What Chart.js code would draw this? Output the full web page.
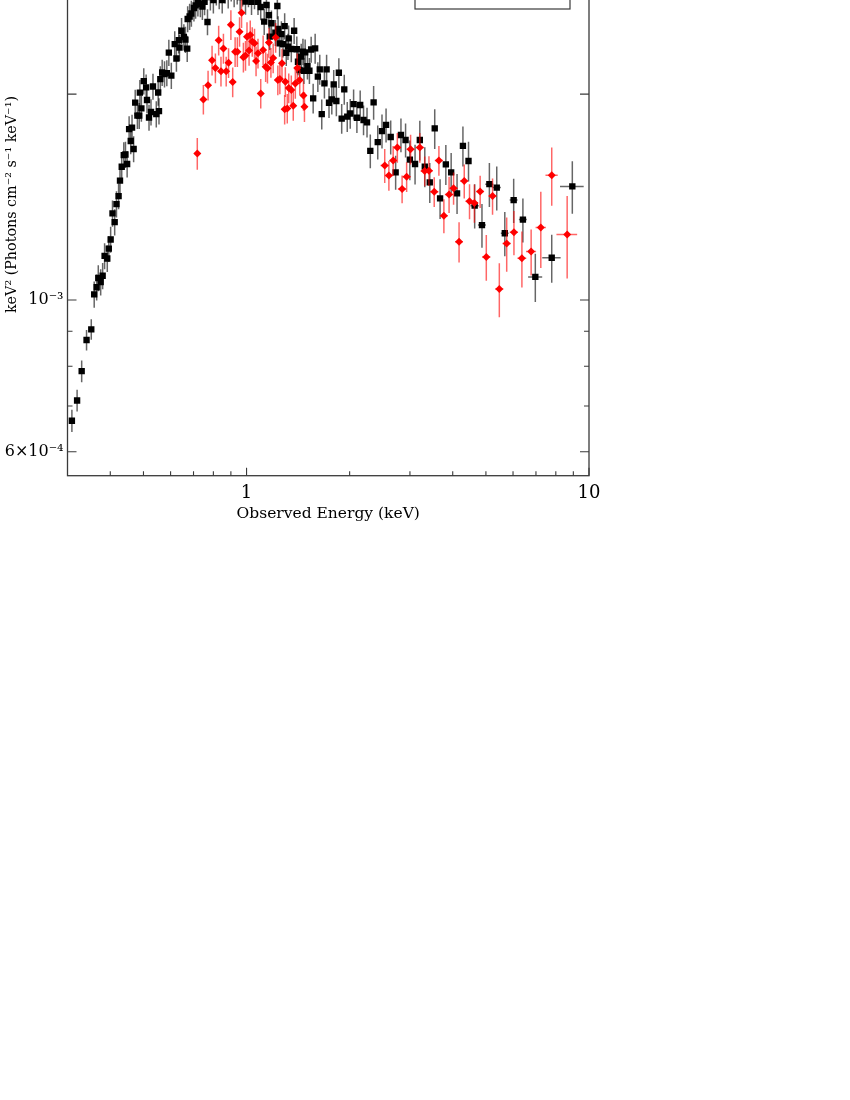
<!DOCTYPE html>
<html>
<head>
<meta charset="utf-8">
<script src="https://cdn.jsdelivr.net/npm/chart.js@4.4.1/dist/chart.umd.min.js"></script>
<style>
html,body{margin:0;padding:0;background:#fff;overflow:hidden;width:850px;height:1100px;}
#wrap{position:absolute;left:0;top:-100px;width:850px;height:640px;}
</style>
</head>
<body>
<div id="wrap"><canvas id="c" width="850" height="640"></canvas></div>
<script>
// ---------------- data (energies in keV, flux in photons cm^-2 s^-1 keV, i.e. keV^2 N(E)) ----------------
const seriesLabels = ['Spectrum A', 'Spectrum B'];

const blackEnergy = [
0.309,0.320,0.330,0.341,0.352,0.359,0.365,0.369,0.375,0.380,
0.385,0.392,0.396,0.401,0.406,0.412,0.417,0.423,0.427,0.432,
0.438,0.443,0.448,0.454,0.459,0.463,0.468,0.473,0.480,0.486,
0.488,0.493,0.501,0.509,0.512,0.519,0.526,0.533,0.545,0.552,
0.555,0.560,0.567,0.576,0.585,0.593,0.603,0.617,0.624,0.634,
0.637,0.646,0.656,0.663,0.671,0.673,0.682,0.690,0.702,0.710,
0.721,0.733,0.743,0.754,0.769,0.784,0.800,0.816,0.832,0.849,
0.866,0.884,0.902,0.920,0.939,0.958,0.974,0.993,1.013,1.034,
1.055,1.080,1.100,1.126,1.143,1.162,1.169,1.182,1.214,1.230,
1.236,1.249,1.264,1.278,1.292,1.306,1.321,1.327,1.351,1.377,
1.402,1.413,1.428,1.444,1.461,1.471,1.483,1.506,1.526,1.544,
1.565,1.586,1.615,1.636,1.658,1.688,1.713,1.741,1.774,1.797,
1.829,1.860,1.896,1.929,1.968,2.008,2.054,2.100,2.147,2.196,
2.248,2.298,2.350,2.416,2.486,2.555,2.636,2.725,2.824,2.913,
2.998,3.105,3.206,3.315,3.428,3.544,3.674,3.819,3.958,4.118,
4.284,4.448,4.636,4.869,5.118,5.378,5.677,6.026,6.412,6.970,
7.783,8.939];

const blackFlux = [
0.666e-3,0.713e-3,0.787e-3,0.874e-3,0.906e-3,1.019e-3,1.044e-3,1.077e-3,1.062e-3,1.085e-3,
1.160e-3,1.150e-3,1.189e-3,1.226e-3,1.339e-3,1.300e-3,1.381e-3,1.419e-3,1.495e-3,1.566e-3,
1.629e-3,1.632e-3,1.581e-3,1.778e-3,1.708e-3,1.787e-3,1.663e-3,1.944e-3,1.860e-3,1.860e-3,
2.010e-3,1.906e-3,2.090e-3,2.046e-3,1.961e-3,1.849e-3,1.883e-3,2.052e-3,1.870e-3,2.011e-3,
1.889e-3,2.104e-3,2.151e-3,2.140e-3,2.147e-3,2.300e-3,2.129e-3,2.367e-3,2.255e-3,2.399e-3,
2.339e-3,2.476e-3,2.424e-3,2.403e-3,2.331e-3,2.576e-3,2.597e-3,2.624e-3,2.673e-3,2.696e-3,
2.718e-3,2.709e-3,2.686e-3,2.728e-3,2.550e-3,2.773e-3,2.745e-3,2.820e-3,2.783e-3,2.745e-3,
2.839e-3,2.792e-3,2.858e-3,2.802e-3,2.830e-3,2.773e-3,2.811e-3,2.732e-3,2.802e-3,2.730e-3,
2.783e-3,2.730e-3,2.682e-3,2.553e-3,2.700e-3,2.610e-3,2.427e-3,2.539e-3,2.459e-3,2.691e-3,
2.490e-3,2.373e-3,2.448e-3,2.367e-3,2.515e-3,2.299e-3,2.347e-3,2.413e-3,2.328e-3,2.476e-3,
2.326e-3,2.230e-3,2.169e-3,2.269e-3,2.307e-3,2.164e-3,2.302e-3,2.198e-3,2.164e-3,2.324e-3,
1.972e-3,2.333e-3,2.121e-3,2.174e-3,1.870e-3,2.074e-3,2.174e-3,1.943e-3,1.965e-3,2.067e-3,
1.954e-3,2.149e-3,1.842e-3,2.032e-3,1.854e-3,1.874e-3,1.934e-3,1.847e-3,1.928e-3,1.833e-3,
1.819e-3,1.652e-3,1.945e-3,1.702e-3,1.766e-3,1.803e-3,1.731e-3,1.537e-3,1.743e-3,1.714e-3,
1.604e-3,1.581e-3,1.714e-3,1.567e-3,1.486e-3,1.782e-3,1.408e-3,1.579e-3,1.537e-3,1.432e-3,
1.680e-3,1.597e-3,1.374e-3,1.287e-3,1.477e-3,1.460e-3,1.252e-3,1.400e-3,1.311e-3,1.081e-3,
1.153e-3,1.466e-3];

const blackFluxErr = [
0.025e-3,0.026e-3,0.029e-3,0.030e-3,0.031e-3,0.045e-3,0.046e-3,0.047e-3,0.047e-3,0.048e-3,
0.051e-3,0.051e-3,0.052e-3,0.054e-3,0.059e-3,0.057e-3,0.061e-3,0.062e-3,0.066e-3,0.069e-3,
0.072e-3,0.072e-3,0.070e-3,0.078e-3,0.075e-3,0.079e-3,0.073e-3,0.086e-3,0.082e-3,0.082e-3,
0.088e-3,0.084e-3,0.092e-3,0.090e-3,0.086e-3,0.081e-3,0.083e-3,0.090e-3,0.082e-3,0.088e-3,
0.083e-3,0.093e-3,0.095e-3,0.094e-3,0.094e-3,0.101e-3,0.094e-3,0.104e-3,0.099e-3,0.106e-3,
0.103e-3,0.109e-3,0.107e-3,0.106e-3,0.103e-3,0.113e-3,0.114e-3,0.115e-3,0.118e-3,0.119e-3,
0.120e-3,0.119e-3,0.118e-3,0.120e-3,0.112e-3,0.122e-3,0.121e-3,0.124e-3,0.122e-3,0.121e-3,
0.125e-3,0.123e-3,0.126e-3,0.123e-3,0.125e-3,0.122e-3,0.124e-3,0.120e-3,0.123e-3,0.120e-3,
0.122e-3,0.120e-3,0.118e-3,0.112e-3,0.119e-3,0.115e-3,0.107e-3,0.112e-3,0.108e-3,0.118e-3,
0.110e-3,0.104e-3,0.108e-3,0.104e-3,0.111e-3,0.101e-3,0.103e-3,0.106e-3,0.102e-3,0.109e-3,
0.102e-3,0.098e-3,0.095e-3,0.100e-3,0.102e-3,0.095e-3,0.101e-3,0.097e-3,0.095e-3,0.102e-3,
0.099e-3,0.117e-3,0.106e-3,0.109e-3,0.094e-3,0.104e-3,0.109e-3,0.097e-3,0.098e-3,0.103e-3,
0.098e-3,0.107e-3,0.092e-3,0.102e-3,0.093e-3,0.094e-3,0.097e-3,0.092e-3,0.096e-3,0.092e-3,
0.091e-3,0.094e-3,0.111e-3,0.097e-3,0.101e-3,0.103e-3,0.099e-3,0.088e-3,0.099e-3,0.098e-3,
0.107e-3,0.106e-3,0.115e-3,0.105e-3,0.100e-3,0.119e-3,0.094e-3,0.106e-3,0.103e-3,0.096e-3,
0.113e-3,0.107e-3,0.102e-3,0.095e-3,0.109e-3,0.108e-3,0.093e-3,0.104e-3,0.097e-3,0.088e-3,
0.093e-3,0.129e-3];

const blackEnergyErr = [
0,0,0,0,0,0,0,0,0,0,
0,0,0,0,0,0,0,0,0,0,
0,0,0,0,0,0,0,0,0,0,
0,0,0,0,0,0,0,0,0,0,
0,0,0,0,0,0,0,0,0,0,
0,0,0,0,0,0,0,0,0,0,
0,0,0,0,0,0,0,0,0,0,
0,0,0,0,0,0,0,0,0,0,
0,0,0,0,0,0,0,0,0,0,
0,0,0,0,0,0,0,0,0,0,
0,0,0,0,0,0,0,0,0,0,
0,0,0,0,0,0,0,0,0,0,
0,0,0,0,0,0,0,0,0,0,
0,0,0,0,0,0,0,0,0,0,
0,0,0,0,0,0,0,0,0,0,
0,0,0.13,0.13,0.14,0.15,0.15,0.16,0.17,0.33,
0.48,0.71];

const redEnergy = [
0.718,0.748,0.772,0.793,0.811,0.829,0.842,0.856,0.872,0.886,
0.900,0.911,0.926,0.940,0.954,0.967,0.979,0.993,1.003,1.017,
1.025,1.039,1.055,1.066,1.080,1.100,1.118,1.137,1.151,1.162,
1.178,1.196,1.216,1.234,1.251,1.269,1.298,1.292,1.315,1.328,
1.351,1.369,1.388,1.406,1.430,1.466,1.476,
2.532,2.604,2.680,2.756,2.846,2.934,3.013,3.206,3.313,3.409,
3.532,3.645,3.769,3.903,4.023,4.174,4.322,4.478,4.627,4.810,
5.013,5.228,5.472,5.750,6.037,6.369,6.777,7.232,7.783,8.634];

const redFlux = [
1.638e-3,1.965e-3,2.060e-3,2.241e-3,2.184e-3,2.397e-3,2.160e-3,2.333e-3,2.160e-3,2.223e-3,
2.526e-3,2.083e-3,2.307e-3,2.307e-3,2.468e-3,2.630e-3,2.264e-3,2.278e-3,2.427e-3,2.316e-3,
2.440e-3,2.387e-3,2.373e-3,2.236e-3,2.295e-3,2.005e-3,2.320e-3,2.193e-3,2.182e-3,2.379e-3,
2.225e-3,2.258e-3,2.420e-3,2.097e-3,2.104e-3,2.219e-3,2.085e-3,1.900e-3,1.906e-3,2.041e-3,
2.028e-3,1.924e-3,2.073e-3,2.184e-3,2.097e-3,1.991e-3,1.917e-3,
1.573e-3,1.521e-3,1.599e-3,1.671e-3,1.453e-3,1.514e-3,1.661e-3,1.671e-3,1.544e-3,1.545e-3,
1.440e-3,1.599e-3,1.328e-3,1.427e-3,1.457e-3,1.217e-3,1.493e-3,1.395e-3,1.386e-3,1.441e-3,
1.156e-3,1.419e-3,1.038e-3,1.210e-3,1.256e-3,1.151e-3,1.177e-3,1.277e-3,1.522e-3,1.247e-3];

const redFluxErr = [
0.088e-3,0.098e-3,0.103e-3,0.112e-3,0.109e-3,0.120e-3,0.108e-3,0.117e-3,0.108e-3,0.111e-3,
0.126e-3,0.104e-3,0.115e-3,0.115e-3,0.123e-3,0.132e-3,0.113e-3,0.114e-3,0.121e-3,0.116e-3,
0.122e-3,0.119e-3,0.119e-3,0.112e-3,0.115e-3,0.100e-3,0.116e-3,0.110e-3,0.109e-3,0.119e-3,
0.111e-3,0.113e-3,0.121e-3,0.105e-3,0.105e-3,0.111e-3,0.104e-3,0.095e-3,0.095e-3,0.102e-3,
0.101e-3,0.096e-3,0.104e-3,0.109e-3,0.105e-3,0.100e-3,0.096e-3,
0.090e-3,0.076e-3,0.080e-3,0.084e-3,0.068e-3,0.076e-3,0.083e-3,0.084e-3,0.077e-3,0.077e-3,
0.072e-3,0.080e-3,0.076e-3,0.087e-3,0.079e-3,0.082e-3,0.085e-3,0.082e-3,0.089e-3,0.078e-3,
0.089e-3,0.087e-3,0.094e-3,0.110e-3,0.093e-3,0.108e-3,0.091e-3,0.163e-3,0.149e-3,0.172e-3];

const redEnergyErr = [
0.014,0.015,0.015,0.016,0.016,0.017,0.017,0.017,0.017,0.018,
0.018,0.018,0.019,0.019,0.019,0.019,0.020,0.020,0.020,0.020,
0.021,0.021,0.021,0.021,0.022,0.022,0.022,0.023,0.023,0.023,
0.024,0.024,0.024,0.025,0.025,0.025,0.026,0.026,0.026,0.027,
0.027,0.027,0.028,0.028,0.029,0.029,0.030,
0.07,0.07,0.07,0.07,0.08,0.08,0.08,0.09,0.09,0.09,
0.10,0.10,0.10,0.11,0.11,0.11,0.12,0.12,0.12,0.13,
0.14,0.14,0.15,0.16,0.17,0.19,0.23,0.25,0.32,0.60];

// axis ranges and ticks
const xRange = [0.3053, 10];
const yRange = [5.535e-4, 3.436e-3];
const xTickValues = [0.4,0.5,0.6,0.7,0.8,0.9,1,2,3,4,5,6,7,8,9,10];
const xTickText   = ['','','','','','','1','','','','','','','','','10'];
const xMajorTicks = [1,10];
const yTickValues = [6e-4,7e-4,8e-4,9e-4,1e-3,2e-3,3e-3];
const yTickText   = ['6×10⁻⁴','','','','10⁻³','',''];
const yMajorTicks = [6e-4,1e-3,2e-3,3e-3];

const xTitle = 'Observed Energy (keV)';
const yTitle = 'keV² (Photons cm⁻² s⁻¹ keV⁻¹)';

// ---------------- chart ----------------
const FONT = "'DejaVu Serif', 'Liberation Serif', serif";

function toPoints(E, F, FE, EE) {
  return E.map((e, i) => ({x: e, y: F[i], yErr: FE[i], xErr: EE[i]}));
}

const errorBarPlugin = {
  id: 'errorBars',
  beforeDatasetDraw(chart, args) {
    const ds = chart.data.datasets[args.index];
    const xs = chart.scales.x, ys = chart.scales.y;
    const a = chart.chartArea;
    const ctx = chart.ctx;
    ctx.save();
    ctx.beginPath();
    ctx.rect(a.left, a.top, a.right - a.left, a.bottom - a.top);
    ctx.clip();
    ctx.strokeStyle = ds.errorColor;
    ctx.lineWidth = 1.5;
    ds.data.forEach(p => {
      const px = xs.getPixelForValue(p.x);
      const py = ys.getPixelForValue(p.y);
      ctx.beginPath();
      ctx.moveTo(px, ys.getPixelForValue(p.y - p.yErr));
      ctx.lineTo(px, ys.getPixelForValue(p.y + p.yErr));
      if (p.xErr > 0) {
        ctx.moveTo(xs.getPixelForValue(p.x - p.xErr), py);
        ctx.lineTo(xs.getPixelForValue(p.x + p.xErr), py);
      }
      ctx.stroke();
    });
    ctx.restore();
  }
};

const framePlugin = {
  id: 'frame',
  afterDraw(chart) {
    const {ctx, chartArea: a, scales: {x, y}} = chart;
    ctx.save();
    ctx.strokeStyle = '#3a3a3a';
    ctx.lineWidth = 1.3;
    ctx.strokeRect(a.left, a.top, a.right - a.left, a.bottom - a.top);
    ctx.lineWidth = 1.1;
    ctx.beginPath();
    xTickValues.forEach(v => {
      const px = x.getPixelForValue(v);
      const len = xMajorTicks.includes(v) ? 8 : 4.5;
      ctx.moveTo(px, a.bottom); ctx.lineTo(px, a.bottom - len);
      ctx.moveTo(px, a.top); ctx.lineTo(px, a.top + len);
    });
    yTickValues.forEach(v => {
      const py = y.getPixelForValue(v);
      const len = yMajorTicks.includes(v) ? 9 : 5;
      ctx.moveTo(a.left, py); ctx.lineTo(a.left + len, py);
      ctx.moveTo(a.right, py); ctx.lineTo(a.right - len, py);
    });
    ctx.stroke();
    // legend frame (its upper part lies above the visible page)
    ctx.lineWidth = 1.2;
    ctx.strokeStyle = '#3a3a3a';
    ctx.strokeRect(a.right - 174, a.top + 8, 155, 67.6);
    ctx.restore();
  }
};

new Chart(document.getElementById('c'), {
  type: 'scatter',
  data: {
    datasets: [
      {
        label: seriesLabels[1],
        data: toPoints(redEnergy, redFlux, redFluxErr, redEnergyErr),
        pointStyle: 'rectRot',
        pointRadius: 4,
        pointHoverRadius: 4,
        backgroundColor: '#ff0000',
        borderColor: '#ff0000',
        borderWidth: 0,
        errorColor: 'rgba(255,0,0,0.6)',
        order: 0
      },
      {
        label: seriesLabels[0],
        data: toPoints(blackEnergy, blackFlux, blackFluxErr, blackEnergyErr),
        pointStyle: 'rect',
        pointRadius: 4.5,
        pointHoverRadius: 4.5,
        backgroundColor: '#000000',
        borderColor: '#000000',
        borderWidth: 0,
        errorColor: 'rgba(0,0,0,0.6)',
        order: 1
      }
    ]
  },
  options: {
    responsive: false,
    animation: false,
    devicePixelRatio: 1,
    events: [],
    layout: {padding: {top: 33.4, left: 0, right: 261, bottom: 0}},
    plugins: {legend: {display: false}, tooltip: {enabled: false}},
    scales: {
      x: {
        type: 'logarithmic',
        min: xRange[0], max: xRange[1],
        afterBuildTicks: s => { s.ticks = xTickValues.map(v => ({value: v})); },
        afterFit: s => { s.height = 64.3; },
        grid: {display: false, drawTicks: false},
        border: {display: false},
        ticks: {
          autoSkip: false, maxRotation: 0, padding: 7, color: '#000',
          font: {family: FONT, size: 18},
          callback: (v, i) => xTickText[i]
        },
        title: {display: true, text: xTitle, color: '#000', font: {family: FONT, size: 15.5}, padding: {top: 0, bottom: 16.7}}
      },
      y: {
        type: 'logarithmic',
        min: yRange[0], max: yRange[1],
        afterBuildTicks: s => { s.ticks = yTickValues.map(v => ({value: v})); },
        afterFit: s => { s.width = 67.5; },
        grid: {display: false, drawTicks: false},
        border: {display: false},
        ticks: {
          autoSkip: false, padding: 4, color: '#000',
          font: {family: FONT, size: 16},
          callback: (v, i) => yTickText[i]
        },
        title: {display: true, text: yTitle, color: '#000', font: {family: FONT, size: 14.3}, padding: {top: 3.4, bottom: 0}}
      }
    }
  },
  plugins: [errorBarPlugin, framePlugin]
});
</script>
</body>
</html>
